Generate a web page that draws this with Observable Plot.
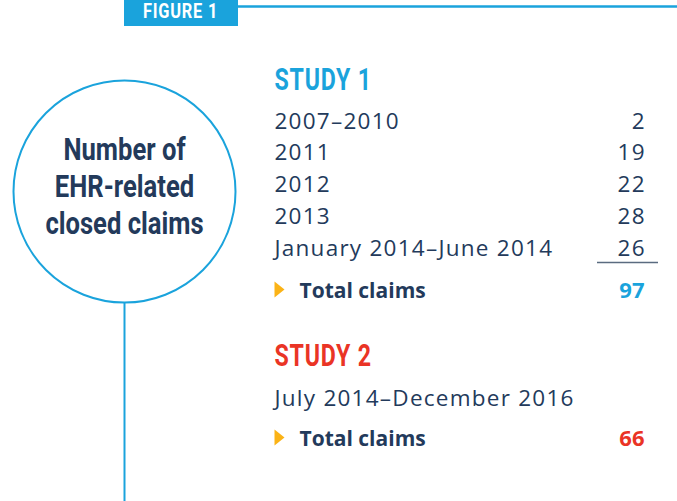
<!DOCTYPE html>
<html>
<head>
<meta charset="utf-8">
<script src="https://cdn.jsdelivr.net/npm/d3@7"></script>
<script src="https://cdn.jsdelivr.net/npm/@observablehq/plot@0.6"></script>
<style>
  html, body { margin: 0; padding: 0; background: #ffffff; }
  #chart { width: 677px; height: 501px; overflow: hidden; }
</style>
</head>
<body>
<div id="chart"></div>
<script>
// ---- data ----
const figureLabel = "FIGURE 1";
const circleLabel = ["Number of", "EHR-related", "closed claims"];
const study1Title = "STUDY 1";
const study1Periods = ["2007–2010", "2011", "2012", "2013", "January 2014–June 2014"];
const study1Claims = [2, 19, 22, 28, 26];
const study1Total = 97;
const study2Title = "STUDY 2";
const study2Periods = ["July 2014–December 2016"];
const study2Total = 66;
const totalLabel = "Total claims";

// ---- style ----
const BLUE = "#1aa3dc", NAVY = "#233a5b", RED = "#ea3425", GOLD = "#fbb316";
const condensed = "Roboto, 'DejaVu Sans', sans-serif";
const body = "'Open Sans', 'Liberation Sans', sans-serif";

// ---- layout ----
const W = 677, H = 501;
const LX = 274, RX = 644;
const rowStep = 31.8;
const s1Rows = study1Periods.map((p, i) => ({label: p, value: study1Claims[i], y: 128 + i * rowStep}));
const s1TotalY = 297;
const s2Rows = study2Periods.map((p, i) => ({label: p, y: 405 + i * rowStep}));
const s2TotalY = 445;
const totals = [
  {label: totalLabel, value: study1Total, y: s1TotalY, color: BLUE},
  {label: totalLabel, value: study2Total, y: s2TotalY, color: RED}
];
const titles = [
  {label: study1Title, y: 89, color: BLUE},
  {label: study2Title, y: 365, color: RED}
];
const circle = {x: 124, y: 191, r: 111};
const circleLines = circleLabel.map((t, i) => ({label: t, y: 159 + i * 37}));

const rightTri = {
  draw(ctx, size) {
    ctx.moveTo(-5, -8); ctx.lineTo(5, 0); ctx.lineTo(-5, 8); ctx.closePath();
  }
};

const chart = Plot.plot({
  width: W, height: H,
  margin: 0,
  x: {domain: [0, W], range: [0, W], axis: null},
  y: {domain: [0, H], range: [0, H], axis: null},
  marks: [
    // top rule and figure tab
    Plot.ruleY([6], {x1: 238, x2: W, stroke: BLUE, strokeWidth: 2.5}),
    Plot.rect([figureLabel], {x1: 124, x2: 238, y1: 0, y2: 26, fill: BLUE}),
    Plot.text([figureLabel], {x: 180, y: 17.5, text: d => d, fill: "white", fontFamily: condensed, fontWeight: "bold", fontSize: 21, textAnchor: "middle", lineAnchor: "bottom", ariaDescription: "condensedWide"}),
    // connector line and circle
    Plot.ruleX([circle.x], {y1: circle.y + circle.r, y2: H, stroke: BLUE, strokeWidth: 2}),
    Plot.dot([circle], {x: "x", y: "y", r: circle.r, fill: "white", stroke: BLUE, strokeWidth: 2}),
    Plot.text(circleLines, {x: circle.x, y: "y", text: "label", fill: NAVY, fontFamily: condensed, fontWeight: "bold", fontSize: 32, textAnchor: "middle", lineAnchor: "bottom", ariaDescription: "condensed"}),
    // study titles
    Plot.text(titles, {x: LX, y: "y", text: "label", fill: d => d.color, fontFamily: condensed, fontWeight: "bold", fontSize: 30.5, textAnchor: "start", lineAnchor: "bottom", ariaDescription: "condensedTitle"}),
    // study 1 rows
    Plot.text(s1Rows, {x: LX, y: "y", text: "label", fill: NAVY, fontFamily: body, fontWeight: 400, fontSize: 22.5, textAnchor: "start", lineAnchor: "bottom", ariaDescription: "spaced"}),
    Plot.text(s1Rows, {x: RX, y: "y", text: d => String(d.value), fill: NAVY, fontFamily: body, fontWeight: 400, fontSize: 22.5, textAnchor: "end", lineAnchor: "bottom", ariaDescription: "spacedNum"}),
    Plot.ruleY([262], {x1: 597, x2: 658, stroke: "#5a6b80", strokeWidth: 1.5}),
    // study 2 rows
    Plot.text(s2Rows, {x: LX, y: "y", text: "label", fill: NAVY, fontFamily: body, fontWeight: 400, fontSize: 22.5, textAnchor: "start", lineAnchor: "bottom", ariaDescription: "spaced"}),
    // totals
    Plot.dot(totals, {x: LX + 5, y: d => d.y - 8, symbol: rightTri, r: 5, fill: GOLD, stroke: null}),
    Plot.text(totals, {x: 299, y: "y", text: "label", fill: NAVY, fontFamily: body, fontWeight: "bold", fontSize: 21, textAnchor: "start", lineAnchor: "bottom"}),
    Plot.text(totals, {x: RX, y: "y", text: d => String(d.value), fill: d => d.color, fontFamily: body, fontWeight: "bold", fontSize: 22, textAnchor: "end", lineAnchor: "bottom"})
  ]
});
chart.style.background = "#ffffff";
document.getElementById("chart").appendChild(chart);

// condense the heading type (narrow display face substitute)
const svg = d3.select(chart.tagName.toLowerCase() === "svg" ? chart : chart.querySelector("svg"));
function condense(sel, s) {
  svg.selectAll(sel).each(function () {
    const t = d3.select(this);
    let tr = t.attr("transform");
    if (!tr) {
      const x = +t.attr("x") || 0, y = +t.attr("y") || 0;
      t.attr("x", null).attr("y", null);
      tr = `translate(${x},${y})`;
    }
    t.attr("transform", tr + ` scale(${s},1)`);
  });
}
condense('g[aria-description="condensed"] text', 0.8);
condense('g[aria-description="condensedTitle"] text', 0.76);
condense('g[aria-description="condensedWide"] text', 0.78);
svg.selectAll('g[aria-description="condensedWide"] text').attr("letter-spacing", "1px");
svg.selectAll('g[aria-description="condensedTitle"] text').attr("letter-spacing", "1px");
svg.selectAll('g[aria-description="spaced"] text').attr("letter-spacing", "1.25px");
svg.selectAll('g[aria-description="spacedNum"] text').attr("letter-spacing", "1.2px").attr("dx", "1.2");
</script>
</body>
</html>
